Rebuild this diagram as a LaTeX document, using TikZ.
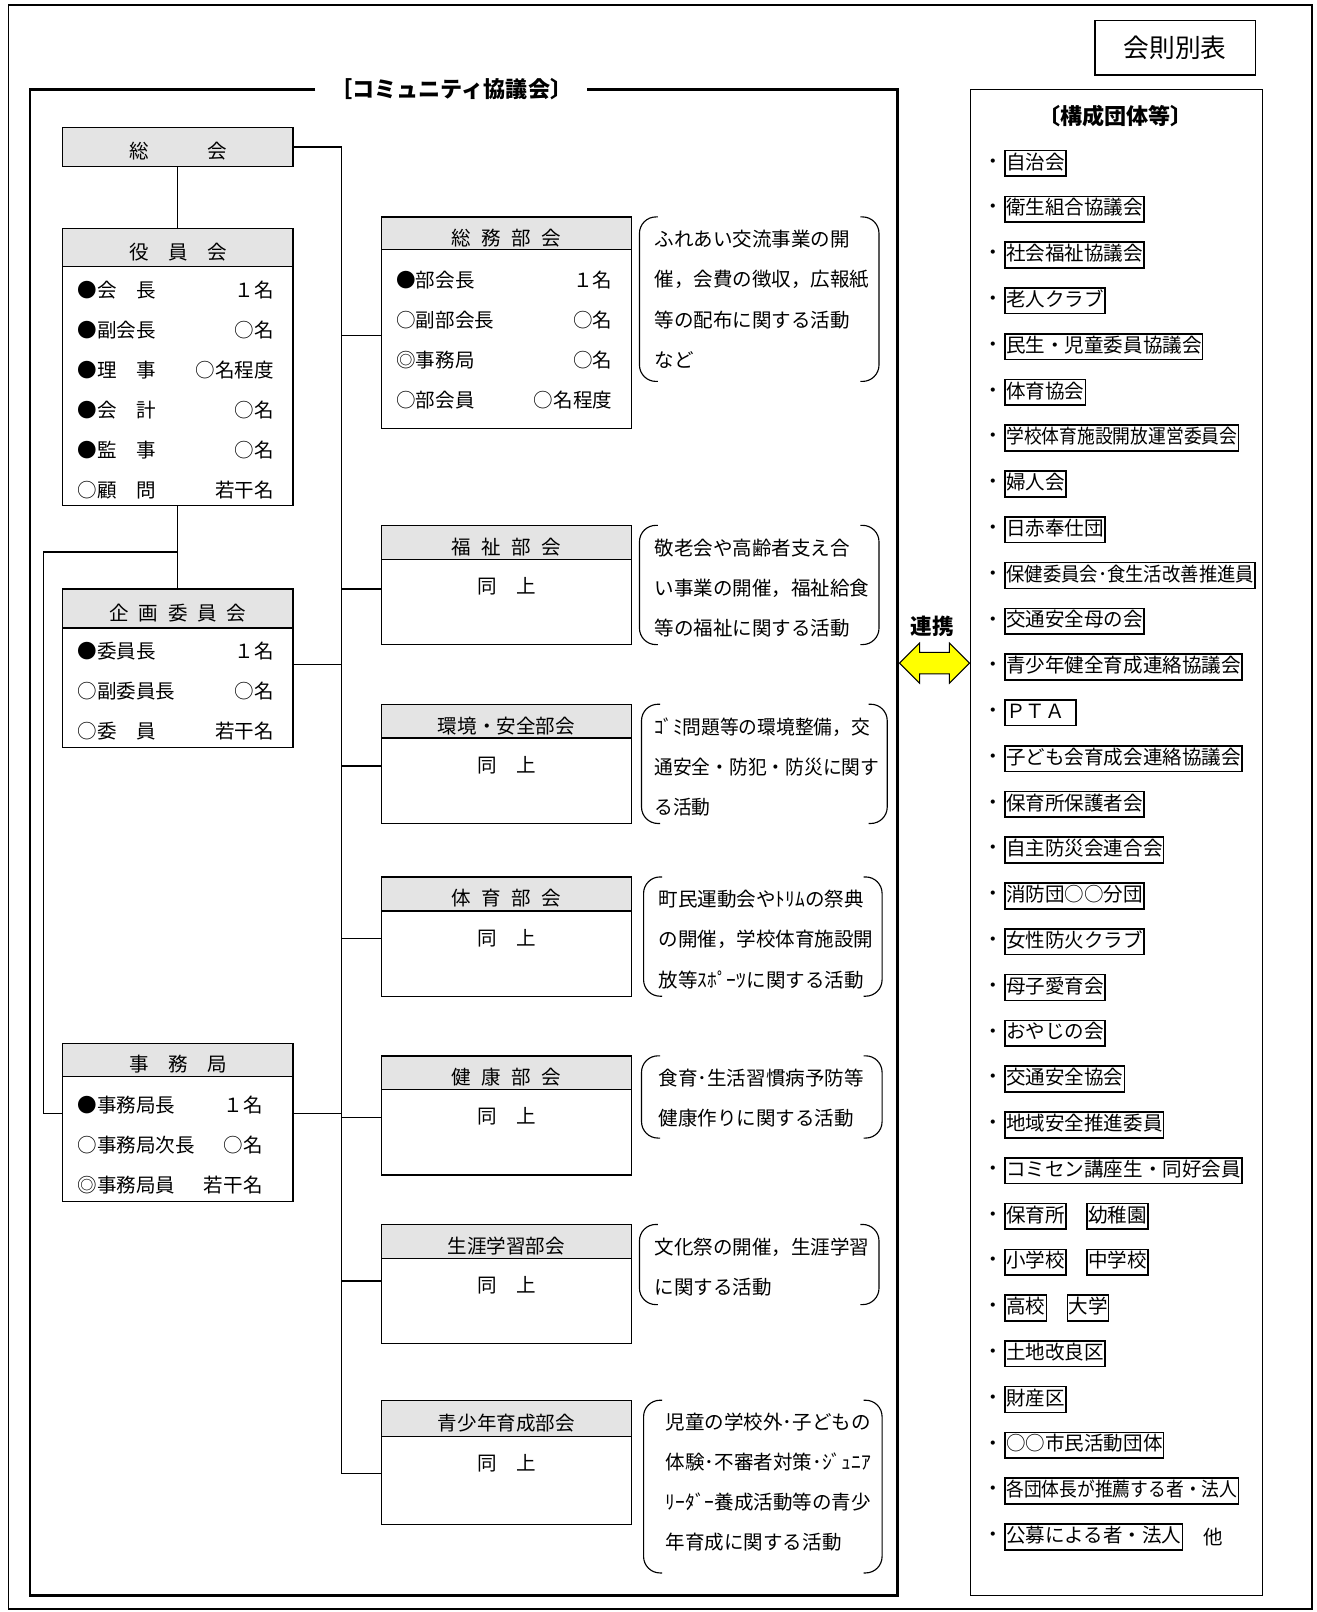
\documentclass[tikz,border=0pt]{standalone}
\usepackage{fontspec}
\setmainfont{Noto Sans CJK JP}
\usetikzlibrary{positioning}
\usetikzlibrary{shapes.arrows}
\definecolor{headgray}{RGB}{228,228,228}
\definecolor{arrowyellow}{RGB}{255,255,0}

\begin{document}
\begin{tikzpicture}[x=1pt, y=-1pt, line width=1.2pt,
    font=\fontsize{19}{22}\selectfont,
    orgbox/.style={draw, line width=1.3pt, minimum width=224, inner sep=0},
    orghead/.style={orgbox, fill=headgray, anchor=north, text height=24pt, text depth=1pt},
    bukaibox/.style={orgbox, minimum width=243},
    bukaihead/.style={bukaibox, fill=headgray, anchor=north, text height=24pt, text depth=1pt},
    rowleft/.style={anchor=west, inner sep=0},
    rowright/.style={anchor=east, inner sep=0},
    note/.style={anchor=west, inner sep=0},
    listbox/.style={draw, line width=1.6pt, anchor=west, inner xsep=1pt, inner ysep=3pt, text height=15pt, text depth=4pt},
    dotmark/.style={inner sep=0}]
    \useasboundingbox (0,0) rectangle (1281,1568);

    % draw frames
    \draw[line width=1.4pt] (8,5) rectangle (1276,1565);
    \node[draw, line width=1.2pt, minimum width=156, minimum height=53, font=\fontsize{25}{28}\selectfont] (kaisoku) at (1143,46.5) {会則別表};
    \node[font=\bfseries\fontsize{21.5}{24}\selectfont, inner xsep=14pt] (cctitle) at (439,87) {［コミュニティ協議会〕};
    \draw[line width=2.4pt] (cctitle.west) -- (29,87) -- (29,1552) -- (873,1552) -- (873,87) -- (cctitle.east);
    \draw[line width=1.2pt] (944,87) rectangle (1228,1552);

    % left column
    \node[orghead, minimum height=38, anchor=center] (sokai) at (173,143) {総　　　会};

    \node[orgbox, minimum height=270] (yakuin) at (173,357) {};
    \node[orghead, minimum height=37] (yakuinH) at (yakuin.north) {役　員　会};
    \foreach \lt/\rt [count=\i] in {●会　長/１名, ●副会長/○名, ●理　事/○名程度, ●会　計/○名, ●監　事/○名, ○顧　問/若干名}
    {
      \node[rowleft] (yakuinL\i) at (75,243+39*\i) {\lt};
      \node[rowright] (yakuinR\i) at (267,243+39*\i) {\rt};
    }

    \node[orgbox, minimum height=154] (kikaku) at (173,650) {};
    \node[orghead, minimum height=38] (kikakuH) at (kikaku.north) {企\hspace{.5em}画\hspace{.5em}委\hspace{.5em}員\hspace{.5em}会};
    \foreach \lt/\rt [count=\i] in {●委員長/１名, ○副委員長/○名, ○委　員/若干名}
    {
      \node[rowleft] (kikakuL\i) at (75,594+39*\i) {\lt};
      \node[rowright] (kikakuR\i) at (267,594+39*\i) {\rt};
    }

    \node[orgbox, minimum height=154] (jimu) at (173,1092) {};
    \node[orghead, minimum height=32] (jimuH) at (jimu.north) {事　務　局};
    \foreach \lt/\rt [count=\i] in {●事務局長/１名, ○事務局次長/○名, ◎事務局員/若干名}
    {
      \node[rowleft] (jimuL\i) at (75,1036+39*\i) {\lt};
      \node[rowright] (jimuR\i) at (256,1036+39*\i) {\rt};
    }

    % middle column
    \node[bukaibox, minimum height=206] (somu) at (492.5,314) {};
    \node[bukaihead, minimum height=32] (somuH) at (somu.north) {総\hspace{.55em}務\hspace{.55em}部\hspace{.55em}会};
    \foreach \lt/\rt [count=\i] in {●部会長/１名, ○副部会長/○名, ◎事務局/○名, ○部会員/○名程度}
    {
      \node[rowleft] (somuL\i) at (385,233+39*\i) {\lt};
      \node[rowright] (somuR\i) at (596,233+39*\i) {\rt};
    }

    \node[bukaibox, minimum height=116] (fukushi) at (492.5,569) {};
    \node[bukaihead, minimum height=33] (fukushiH) at (fukushi.north) {福\hspace{.55em}祉\hspace{.55em}部\hspace{.55em}会};
    \node[below=13pt of fukushiH] (fukushiS) {同　上};

    \node[bukaibox, minimum height=116] (kankyo) at (492.5,743) {};
    \node[bukaihead, minimum height=33] (kankyoH) at (kankyo.north) {環境・安全部会};
    \node[below=13pt of kankyoH] (kankyoS) {同　上};

    \node[bukaibox, minimum height=116] (taiiku) at (492.5,911) {};
    \node[bukaihead, minimum height=33] (taiikuH) at (taiiku.north) {体\hspace{.55em}育\hspace{.55em}部\hspace{.55em}会};
    \node[below=13pt of taiikuH] (taiikuS) {同　上};

    \node[bukaibox, minimum height=116] (kenko) at (492.5,1085) {};
    \node[bukaihead, minimum height=33] (kenkoH) at (kenko.north) {健\hspace{.55em}康\hspace{.55em}部\hspace{.55em}会};
    \node[below=13pt of kenkoH] (kenkoS) {同　上};

    \node[bukaibox, minimum height=116] (shogai) at (492.5,1249) {};
    \node[bukaihead, minimum height=33] (shogaiH) at (shogai.north) {生涯学習部会};
    \node[below=13pt of shogaiH] (shogaiS) {同　上};

    \node[bukaibox, minimum height=121] (seishonen) at (492.5,1422.5) {};
    \node[bukaihead, minimum height=35] (seishonenH) at (seishonen.north) {青少年育成部会};
    \node[below=13pt of seishonenH] (seishonenS) {同　上};

    % connectors
    \draw (sokai.south) -- (yakuinH.north);
    \draw (yakuin.south) -- (kikakuH.north);
    \coordinate (split) at (yakuin.south |- 0,537);
    \draw (split) -- ++(-131,0) |- (jimu.west |- 0,1083);
    \draw (sokai.east) -| (332,1433);
    \draw (kikaku.east |- 0,646) -- (332,646);
    \draw (jimu.east |- 0,1083) -- (332,1083);
    \foreach \n/\y in {somu/326, fukushi/573, kankyo/745, taiiku/913, kenko/1087, shogai/1246, seishonen/1433}
      \draw (332,\y) -- (\n.west |- 0,\y);

    % brackets
    \foreach \xa/\xb/\ya/\yb in {622/855/211/371, 622/855/511/627, 624/863/685/801, 626/858/853/969, 624/858/1027/1107, 622/855/1191/1269, 626/858/1362/1530}
    {
      \draw[line width=1.1pt, rounded corners=16] (\xa+18,\ya) -- (\xa,\ya) -- (\xa,\yb) -- (\xa+18,\yb);
      \draw[line width=1.1pt, rounded corners=16] (\xb-18,\ya) -- (\xb,\ya) -- (\xb,\yb) -- (\xb-18,\yb);
    }

    % notes
    \foreach \t [count=\i] in {ふれあい交流事業の開, 催，会費の徴収，広報紙, 等の配布に関する活動, など}
      \node[note] (somuN\i) at (636,194+39*\i) {\t};
    \foreach \t [count=\i] in {敬老会や高齢者支え合, い事業の開催，福祉給食, 等の福祉に関する活動}
      \node[note] (fukushiN\i) at (636,494+39*\i) {\t};
    \foreach \t [count=\i] in {ｺﾞﾐ問題等の環境整備，交, 通安全・防犯・防災に関す, る活動}
      \node[note] (kankyoN\i) at (636,668+39*\i) {\scalebox{0.96}[1]{\t}};
    \foreach \t [count=\i] in {町民運動会やﾄﾘﾑの祭典, の開催，学校体育施設開, 放等ｽﾎﾟｰﾂに関する活動}
      \node[note] (taiikuN\i) at (640,836+39*\i) {\t};
    \foreach \t [count=\i] in {食育･生活習慣病予防等, 健康作りに関する活動}
      \node[note] (kenkoN\i) at (640,1010+39*\i) {\t};
    \foreach \t [count=\i] in {文化祭の開催，生涯学習, に関する活動}
      \node[note] (shogaiN\i) at (636,1174+39*\i) {\t};
    \foreach \t [count=\i] in {児童の学校外･子どもの, 体験･不審者対策･ｼﾞｭﾆｱ, ﾘｰﾀﾞｰ養成活動等の青少, 年育成に関する活動}
      \node[note] (seishonenN\i) at (647,1344+39*\i) {\t};

    % renkei arrow
    \node[font=\bfseries\fontsize{21}{24}\selectfont] (renkei) at (907,609) {連携};
    \node[double arrow, draw, fill=arrowyellow, line width=1pt, minimum height=68, minimum width=38, double arrow head extend=9, inner xsep=0, inner ysep=10pt] (renkeiArrow) at (909,645) {};

    % member list
    \node[font=\bfseries\fontsize{21.5}{24}\selectfont] (kosei) at (1085,113) {〔構成団体等〕};
    \foreach \t/\w [count=\i] in {自治会/1, 衛生組合協議会/1, 社会福祉協議会/1, 老人クラブ/1, 民生・児童委員協議会/1, 体育協会/1, 学校体育施設開放運営委員会/0.91, 婦人会/1, 日赤奉仕団/1, 保健委員会･食生活改善推進員/0.94, 交通安全母の会/1, 青少年健全育成連絡協議会/1, {ＰＴＡ\hspace{10pt}}/1, 子ども会育成会連絡協議会/1, 保育所保護者会/1, 自主防災会連合会/1, 消防団○○分団/1, 女性防火クラブ/1, 母子愛育会/1, おやじの会/1, 交通安全協会/1, 地域安全推進委員/1, コミセン講座生・同好会員/1, 保育所/1, 小学校/1, 高校/1, 土地改良区/1, 財産区/1, ○○市民活動団体/1, 各団体長が推薦する者・法人/0.91, 公募による者・法人/1}
    {
      \pgfmathsetmacro\yy{159+(\i-1)*44.53}
      \node[dotmark] (dot\i) at (966,\yy) {・};
      \node[listbox] (org\i) at (977,\yy) {\scalebox{\w}[1]{\t}};
    }
    \node[listbox, right=19pt of org24] (org24b) {幼稚園};
    \node[listbox, right=19pt of org25] (org25b) {中学校};
    \node[listbox, right=19pt of org26] (org26b) {大学};
    \node[right=16pt of org31] (hoka) {他};

\end{tikzpicture}
\end{document}
